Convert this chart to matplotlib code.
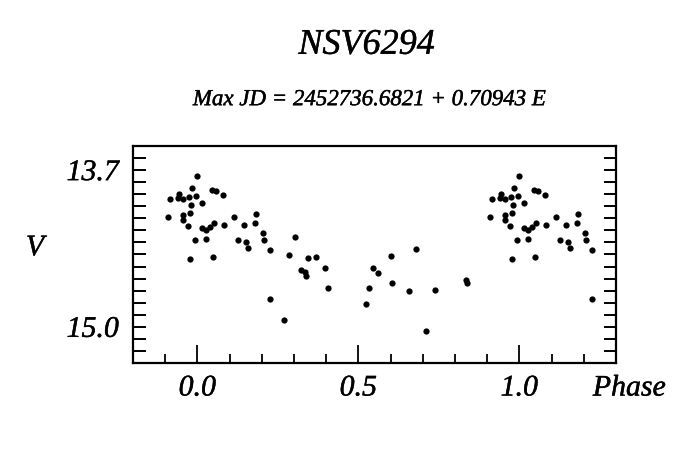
import matplotlib
matplotlib.use("Agg")
import matplotlib.pyplot as plt
import matplotlib.patheffects as pe
import numpy as np
from matplotlib.ticker import MultipleLocator, FixedLocator

# Unique phases in [0, 1) and V magnitudes
phase = [0.999, 0.982, 0.0445, 0.0569, 0.943, 0.0787, 0.916, 0.939, 0.955, 0.975,
         0.996, 0.979, 0.0143, 0.955, 0.976, 0.909, 0.954, 0.971, 0.0143, 0.028,
         0.0382, 0.0529, 0.0827, 0.1138, 0.9925, 0.0267, 0.976, 0.0476, 0.1449, 0.1822,
         0.1791, 0.1275, 0.1511, 0.1586, 0.204, 0.2083, 0.2257, 0.286, 0.2257, 0.2683,
         0.3035, 0.3439, 0.3678, 0.3212, 0.3346, 0.3358, 0.3968, 0.4042, 0.5224, 0.5336,
         0.5442, 0.5606, 0.602, 0.6042, 0.6797, 0.657, 0.7379, 0.7099, 0.8343, 0.8383]
vmag = [13.75, 13.849, 13.868, 13.871, 13.901, 13.909, 13.943, 13.934, 13.943, 13.924,
        13.918, 13.992, 13.971, 14.070, 14.053, 14.087, 14.114, 14.161, 14.178, 14.199,
        14.169, 14.139, 14.155, 14.089, 14.279, 14.271, 14.439, 14.418, 14.155, 14.064,
        14.141, 14.282, 14.294, 14.348, 14.224, 14.282, 14.365, 14.401, 14.770, 14.942,
        14.255, 14.428, 14.418, 14.528, 14.542, 14.577, 14.511, 14.677, 14.812, 14.674,
        14.511, 14.553, 14.409, 14.635, 14.356, 14.702, 14.693, 15.033, 14.613, 14.638]

title = "NSV6294"
subtitle = "Max JD = 2452736.6821 + 0.70943 E"
xticks = [0.0, 0.5, 1.0]
xticklabels = ["0.0", "0.5", "1.0"]
yticks = [13.7, 15.0]
yticklabels = ["13.7", "15.0"]
window = (-0.1, 1.25)

p = np.array(phase)
m = np.array(vmag)
px, py = [], []
for shift in (-1, 0, 1):
    q = p + shift
    sel = (q >= window[0]) & (q <= window[1])
    px.extend(q[sel]); py.extend(m[sel])

font = dict(family="Liberation Serif", style="italic")
thick = [pe.withStroke(linewidth=0.3, foreground="black")]

fig = plt.figure(figsize=(7, 4.53), dpi=100)
ax = fig.add_axes([0.19, 0.1987, 0.69, 0.479])
ax.plot(px, py, 'o', color='black', ms=4.5, mec='none')
ax.set_xlim(-0.2, 1.3)
ax.set_ylim(15.3, 13.5)

for s in ax.spines.values():
    s.set_linewidth(1.6)

ax.xaxis.set_major_locator(FixedLocator(xticks))
ax.xaxis.set_minor_locator(MultipleLocator(0.1))
ax.set_xticklabels(xticklabels, fontdict=dict(fontsize=21.5, **font))
ax.tick_params(axis='x', which='major', direction='in', length=13, width=1.3,
               top=False, pad=9)
ax.tick_params(axis='x', which='minor', direction='in', length=6.5, width=1.3, top=False)

ax.yaxis.set_major_locator(FixedLocator(yticks))
ax.yaxis.set_minor_locator(MultipleLocator(0.1))
ax.set_yticklabels(yticklabels, fontdict=dict(fontsize=21.5, **font))
ax.tick_params(axis='y', which='both', direction='in', length=9, width=1.4,
               left=True, right=True, pad=10)
for lab in ax.get_xticklabels() + ax.get_yticklabels():
    lab.set_path_effects(thick)

ax.text(0.952, -0.058, "Phase", transform=ax.transAxes, fontsize=21.5, ha='left', va='top',
        path_effects=thick, **font)
fig.text(0.05, 0.452, "V", fontsize=21.5, ha='center', va='center', path_effects=thick, **font)
fig.text(0.524, 0.9, title, fontsize=26, ha='center', va='center', path_effects=thick, **font)
fig.text(0.528, 0.78, subtitle, fontsize=16.5, ha='center', va='center',
         path_effects=thick, **font)

fig.savefig("out.png", dpi=100)
